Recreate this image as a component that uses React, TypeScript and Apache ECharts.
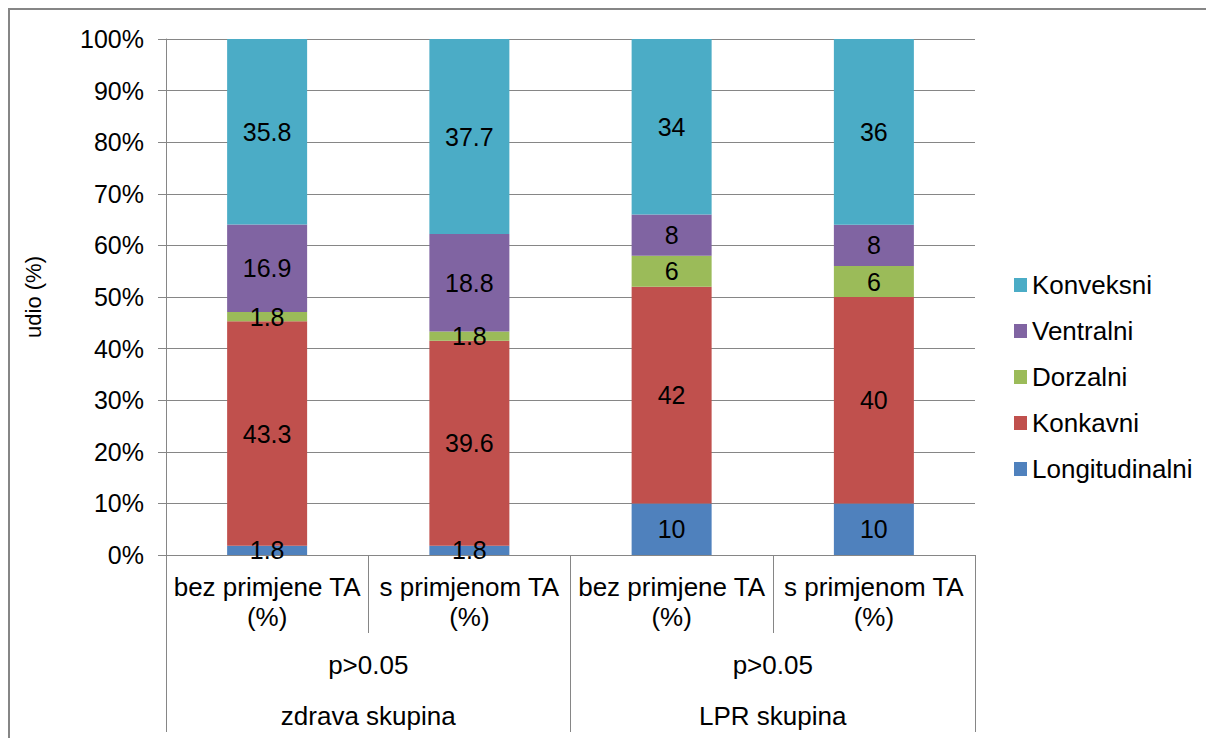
import React, { useEffect, useRef } from "react";
import * as echarts from "echarts";

const categories = ["bez primjene TA\n(%)", "s primjenom TA\n(%)", "bez primjene TA\n(%)", "s primjenom TA\n(%)"];
const pLabels = ["p>0.05", "p>0.05"];
const groups = ["zdrava skupina", "LPR skupina"];
const seriesNames = ["Longitudinalni", "Konkavni", "Dorzalni", "Ventralni", "Konveksni"];
const longitudinalni = [1.8, 1.8, 10, 10];
const konkavni = [43.3, 39.6, 42, 40];
const dorzalni = [1.8, 1.8, 6, 6];
const ventralni = [16.9, 18.8, 8, 8];
const konveksni = [35.8, 37.7, 34, 36];
const colors = ["#4F81BD", "#C0504D", "#9BBB59", "#8064A2", "#4BACC6"];
const yTicks = { min: 0, max: 100, interval: 10 };

const FONT = "'Liberation Sans', Arial, sans-serif";

export default function App() {
  const ref = useRef<HTMLDivElement>(null);
  useEffect(() => {
    if (!ref.current) return;
    const chart = echarts.init(ref.current, null, { renderer: "svg" });
    const all = [longitudinalni, konkavni, dorzalni, ventralni, konveksni];
    const totals = categories.map((_, i) => all.reduce((s, arr) => s + arr[i], 0));
    const gray = "#868686";
    chart.setOption({
      animation: false,
      textStyle: { fontFamily: FONT },
      graphic: [
        {
          type: "rect",
          shape: { x: 1, y: 1, width: 1400, height: 1000 },
          style: { fill: "none", stroke: gray, lineWidth: 2 },
          silent: true,
        },
      ],
      legend: {
        orient: "vertical",
        left: 1001,
        top: 259,
        data: [...seriesNames].reverse(),
        itemWidth: 13,
        itemHeight: 14,
        itemGap: 20,
        icon: "rect",
        textStyle: { fontSize: 26, color: "#000", fontFamily: FONT, lineHeight: 26 },
      },
      grid: { left: 158, top: 31, width: 809, height: 516 },
      xAxis: [
        {
          type: "category",
          data: categories,
          position: "bottom",
          axisLine: { show: true, lineStyle: { color: gray } },
          axisTick: { show: true, length: 78, interval: 0, lineStyle: { color: gray } },
          axisLabel: { interval: 0, margin: 17, fontSize: 26, color: "#000", lineHeight: 30, fontFamily: FONT },
        },
        {
          type: "category",
          data: pLabels,
          position: "bottom",
          axisLine: { show: false },
          axisTick: { show: true, length: 177, interval: 0, lineStyle: { color: gray } },
          axisLabel: { interval: 0, margin: 97, fontSize: 26, color: "#000", lineHeight: 25, fontFamily: FONT },
        },
        {
          type: "category",
          data: groups,
          position: "bottom",
          axisLine: { show: false },
          axisTick: { show: false },
          axisLabel: { interval: 0, margin: 148, fontSize: 26, color: "#000", lineHeight: 25, fontFamily: FONT },
        },
      ],
      yAxis: {
        type: "value",
        min: yTicks.min,
        max: yTicks.max,
        interval: yTicks.interval,
        name: "udio (%)",
        nameLocation: "middle",
        nameGap: 122,
        nameRotate: 90,
        nameTextStyle: { fontSize: 22, color: "#000", fontFamily: FONT },
        axisLine: { show: true, lineStyle: { color: gray } },
        axisTick: { show: true, length: 8, lineStyle: { color: gray } },
        splitLine: { show: true, lineStyle: { color: gray, width: 1 } },
        axisLabel: { formatter: "{value}%", fontSize: 25, color: "#000", margin: 22, fontFamily: FONT },
      },
      series: all.map((arr, si) => ({
        type: "bar",
        name: seriesNames[si],
        stack: "total",
        barWidth: 80,
        xAxisIndex: 0,
        itemStyle: { color: colors[si] },
        label: {
          show: true,
          position: "inside",
          fontSize: 25,
          color: "#000",
          fontFamily: FONT,
          formatter: (p: any) => String(p.data.raw),
        },
        data: arr.map((v, i) => ({ value: (v / totals[i]) * 100, raw: v })),
      })),
    });
    return () => chart.dispose();
  }, []);
  return <div ref={ref} style={{ width: 1206, height: 730 }} />;
}
